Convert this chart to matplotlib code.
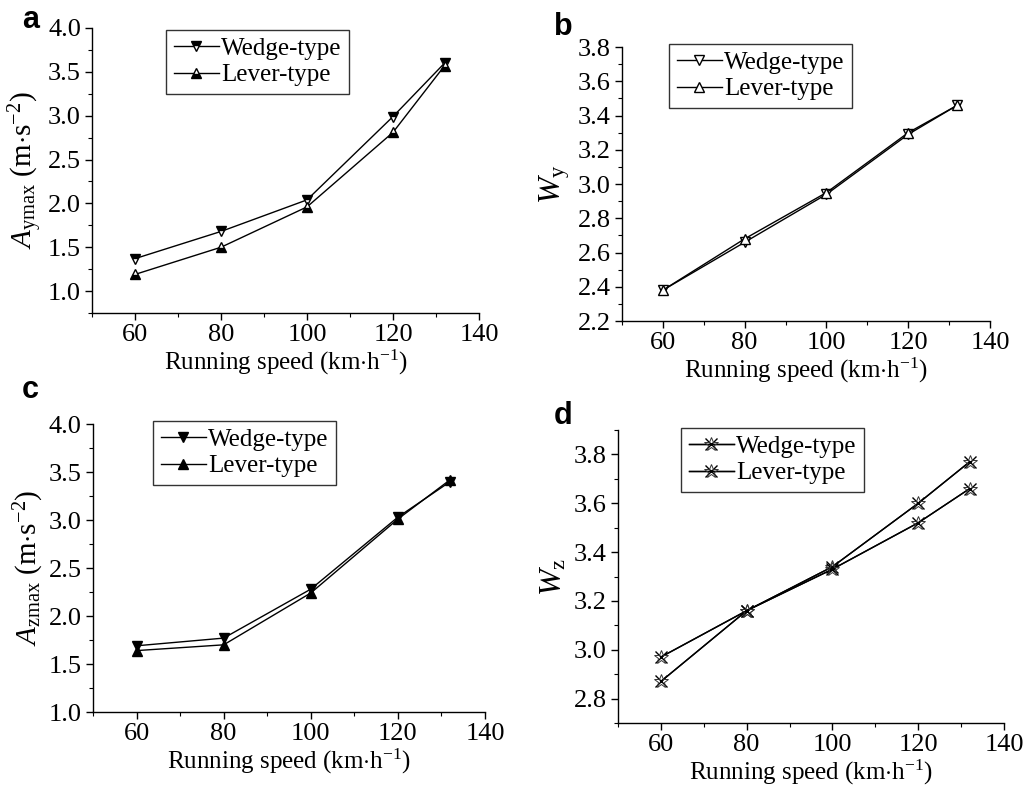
import matplotlib
matplotlib.use("Agg")
import matplotlib.pyplot as plt
from matplotlib.ticker import MultipleLocator, FormatStrFormatter

plt.rcParams['font.family'] = ['Liberation Serif', 'DejaVu Serif']
plt.rcParams['mathtext.fontset'] = 'custom'
plt.rcParams['mathtext.rm'] = 'Liberation Serif'
plt.rcParams['mathtext.it'] = 'Liberation Serif:italic'
plt.rcParams['mathtext.bf'] = 'Liberation Serif:bold'

speed = [60, 80, 100, 120, 132]

a_wedge = [1.37, 1.68, 2.04, 2.99, 3.60]
a_lever = [1.19, 1.50, 1.96, 2.81, 3.57]

b_wedge = [2.38, 2.66, 2.94, 3.29, 3.46]
b_lever = [2.38, 2.68, 2.95, 3.30, 3.46]

c_wedge = [1.69, 1.77, 2.28, 3.03, 3.40]
c_lever = [1.64, 1.70, 2.24, 3.01, 3.42]

d_wedge = [2.87, 3.16, 3.34, 3.60, 3.77]
d_lever = [2.97, 3.16, 3.33, 3.52, 3.66]

series_labels = ['Wedge-type', 'Lever-type']
xlabel = r'Running speed (km$\cdot$h$^{-1}$)'

fig = plt.figure(figsize=(10.25, 7.93), dpi=100)

LEG_FS = 18

def style_axes(ax, ylim, ymajor, yminor, yfmt):
    ax.set_xlim(50, 140)
    ax.set_ylim(*ylim)
    ax.xaxis.set_major_locator(MultipleLocator(20))
    ax.xaxis.set_minor_locator(MultipleLocator(10))
    ax.yaxis.set_major_locator(MultipleLocator(ymajor))
    ax.yaxis.set_minor_locator(MultipleLocator(yminor))
    ax.yaxis.set_major_formatter(FormatStrFormatter(yfmt))
    for s in ['top', 'right']:
        ax.spines[s].set_visible(False)
    for s in ['left', 'bottom']:
        ax.spines[s].set_linewidth(1.0)
    ax.tick_params(which='major', direction='out', length=5, width=1.0, labelsize=19, pad=3)
    ax.tick_params(which='minor', direction='out', length=3, width=0.8)
    ax.set_xlabel(xlabel, fontsize=18, labelpad=1)

def legend(ax, bbox, handles=None):
    kw = dict(loc='upper left', bbox_to_anchor=bbox, bbox_transform=fig.transFigure,
              fontsize=LEG_FS, frameon=True, fancybox=False, edgecolor='black',
              handlelength=1.8, handletextpad=0.1, borderpad=0.3, labelspacing=0.15,
              borderaxespad=0)
    if handles is None:
        leg = ax.legend(**kw)
    else:
        leg = ax.legend(handles, series_labels, **kw)
    leg.get_frame().set_linewidth(1.0)

# Panel a
ax = fig.add_axes([0.0898, 0.6053, 0.3775, 0.3594])
ax.plot(speed, a_wedge, color='black', lw=1, marker='v', ms=7, mfc='black', mec='black',
        fillstyle='top', markerfacecoloralt='white', label=series_labels[0])
ax.plot(speed, a_lever, color='black', lw=1, marker='^', ms=7, mfc='black', mec='black',
        fillstyle='bottom', markerfacecoloralt='white', label=series_labels[1])
style_axes(ax, (0.75, 4.0), 0.5, 0.25, '%.1f')
ax.set_ylabel(r'$A_{\rm ymax}$ (m$\cdot$s$^{-2}$)', fontsize=21, labelpad=2)
legend(ax, (166/1025, 1 - 30/793))
fig.text(22/1025, 1 - 28/793, 'a', fontsize=22, fontweight='bold', family='Liberation Sans', va='baseline')

# Panel b
ax = fig.add_axes([0.6068, 0.5952, 0.3591, 0.3455])
ax.plot(speed, b_wedge, color='black', lw=1, marker='v', ms=7, mfc='white', mec='black',
        label=series_labels[0])
ax.plot(speed, b_lever, color='black', lw=1, marker='^', ms=7, mfc='white', mec='black',
        label=series_labels[1])
style_axes(ax, (2.2, 3.8), 0.2, 0.1, '%.1f')
ax.set_ylabel(r'$W_{\rm y}$', fontsize=23, labelpad=4)
legend(ax, (669/1025, 1 - 44/793))
fig.text(554/1025, 1 - 35/793, 'b', fontsize=22, fontweight='bold', family='Liberation Sans', va='baseline')

# Panel c
ax = fig.add_axes([0.0907, 0.1021, 0.3825, 0.3632])
ax.plot(speed, c_wedge, color='black', lw=1, marker='v', ms=7, mfc='black', mec='black',
        label=series_labels[0])
ax.plot(speed, c_lever, color='black', lw=1, marker='^', ms=7, mfc='black', mec='black',
        label=series_labels[1])
style_axes(ax, (1.0, 4.0), 0.5, 0.25, '%.1f')
ax.set_ylabel(r'$A_{\rm zmax}$ (m$\cdot$s$^{-2}$)', fontsize=21, labelpad=2)
legend(ax, (153/1025, 1 - 421/793))
fig.text(22/1025, 1 - 398/793, 'c', fontsize=22, fontweight='bold', family='Liberation Sans', va='baseline')

# Panel d
ax = fig.add_axes([0.6029, 0.0883, 0.3766, 0.3694])
h = []
for vals in (d_wedge, d_lever):
    l1, = ax.plot(speed, vals, color='black', lw=1, marker='x', ms=8, mew=1.0, mec='black')
    l2, = ax.plot(speed, vals, color='black', lw=1, marker='*', ms=10, mfc='none', mec='#333333', mew=0.7)
    h.append((l1, l2))
style_axes(ax, (2.7, 3.9), 0.2, 0.1, '%.1f')
ax.set_ylabel(r'$W_{\rm z}$', fontsize=23, labelpad=4)
legend(ax, (681/1025, 1 - 428/793), handles=h)
fig.text(554/1025, 1 - 424/793, 'd', fontsize=22, fontweight='bold', family='Liberation Sans', va='baseline')

fig.savefig('out.png', dpi=100)
